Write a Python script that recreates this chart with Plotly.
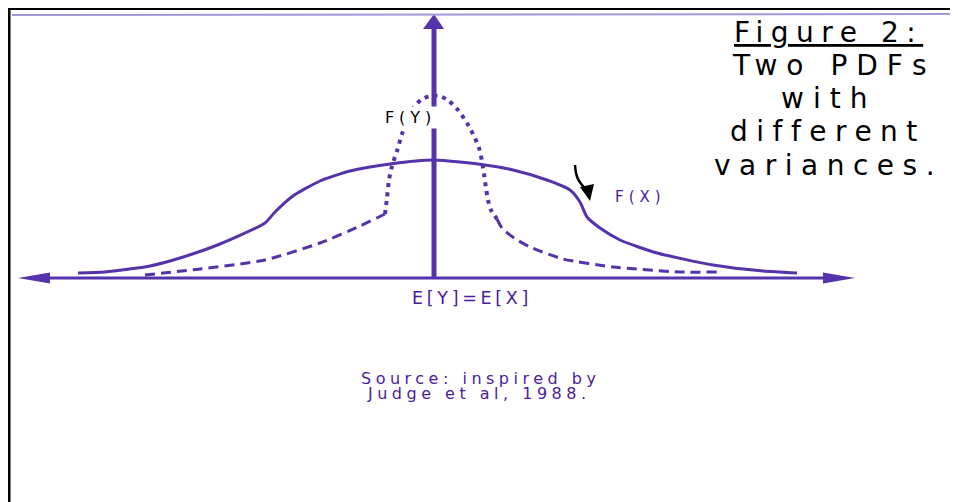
import plotly.graph_objects as go

# x = offset from the common mean E[Y]=E[X], y = density height above the axis
FX_X = [-356, -329, -284, -254, -214, -169, -159, -141, -114, -84, -44, 0,
        51, 79, 113, 136, 146, 153, 166, 186, 223, 279, 329, 363]
FX_Y = [5, 6, 12, 20, 34, 55, 66, 82, 97, 107, 114, 118,
        113, 108, 98, 88, 76, 61, 50, 38, 25, 13, 7, 5]

FY_LEFT_X = [-289, -234, -169, -114, -74, -49]
FY_LEFT_Y = [3, 9, 18, 35, 52, 64]
FY_PEAK_X = [-49, -47, -45, -42, -37, -32, -27, -20, -12, -3, 6, 15, 24, 33,
             40, 45, 48, 50, 52, 54, 57, 63]
FY_PEAK_Y = [64, 80, 98, 112, 127, 144, 158, 171, 179, 182, 182, 177, 168, 155,
             142, 130, 117, 104, 90, 78, 68, 59]
FY_RIGHT_X = [63, 68, 80, 96, 129, 179, 246, 283]
FY_RIGHT_Y = [59, 50, 40, 31, 19, 11, 6, 6]

# little black pointer next to F(X)
POINTER_X = [141, 142, 144, 148, 151]
POINTER_Y = [113, 105, 99, 93, 90]

TITLE_LINES = ["<u>Figure 2:</u>", "Two PDFs", "with", "different", "variances."]
SOURCE_LINES = ["Source: inspired by", "Judge et al, 1988."]

PURPLE = "#5533aa"
TEXT_PURPLE = "#4b1c9c"
FONT = "DejaVu Sans, Verdana, sans-serif"


def spaced(text, px):
    return f"<span style='letter-spacing:{px}px'>{text}</span>"


def triangle(fig, xs, ys, color):
    fig.add_scatter(x=xs + xs[:1], y=ys + ys[:1], mode="lines", fill="toself",
                    fillcolor=color, line=dict(width=0, color=color),
                    hoverinfo="skip", showlegend=False)


fig = go.Figure()

# axes drawn as marks
fig.add_scatter(x=[-384, 389], y=[0, 0], mode="lines",
                line=dict(color=PURPLE, width=3), hoverinfo="skip", showlegend=False)
triangle(fig, [-416, -384, -384], [0, 5.5, -5.5], PURPLE)
triangle(fig, [421, 389, 389], [0, 5.5, -5.5], PURPLE)
fig.add_scatter(x=[0, 0], y=[0, 250], mode="lines",
                line=dict(color=PURPLE, width=5), hoverinfo="skip", showlegend=False)
triangle(fig, [0, -11, 10], [264, 249, 249], PURPLE)

# densities
fig.add_scatter(x=FX_X, y=FX_Y, mode="lines", line=dict(color=PURPLE, width=3, shape="spline", smoothing=0.6),
                name="F(X)", hoverinfo="skip", showlegend=False)
for xs, ys, dash in [(FY_LEFT_X, FY_LEFT_Y, "10px,6px"),
                     (FY_PEAK_X, FY_PEAK_Y, "4px,5px"),
                     (FY_RIGHT_X, FY_RIGHT_Y, "10px,6px")]:
    fig.add_scatter(x=xs, y=ys, mode="lines",
                    line=dict(color=PURPLE, width=4 if dash == "4px,5px" else 3, dash=dash, shape="spline", smoothing=0.6),
                    name="F(Y)", hoverinfo="skip", showlegend=False)

fig.add_scatter(x=POINTER_X, y=POINTER_Y, mode="lines", line=dict(color="black", width=2.5, shape="spline"),
                hoverinfo="skip", showlegend=False)
triangle(fig, [146, 160, 156], [91, 94, 77], "black")

fig.add_annotation(x=-26, y=161, text=spaced("F(Y)", 4.9), showarrow=False, xshift=2.5,
                   bgcolor="white", borderpad=1, font=dict(family=FONT, size=16, color="black"))
fig.add_annotation(x=204, y=81, text=spaced("F(X)", 5), showarrow=False, xshift=2.5,
                   font=dict(family=FONT, size=15, color=TEXT_PURPLE))
fig.add_annotation(x=36, y=-19.5, text=spaced("E[Y]=E[X]", 3.7), showarrow=False, xshift=2,
                   font=dict(family=FONT, size=17.5, color=TEXT_PURPLE))
for i, line in enumerate(SOURCE_LINES):
    fig.add_annotation(x=44 - 1.5 * i, y=-100 - 15.5 * i, text=spaced(line, 4.5), showarrow=False, xshift=2,
                       font=dict(family=FONT, size=16, color=TEXT_PURPLE))

title_centers = [391, 395, 390, 390, 390]
title_spacing = [7.5, 9, 9, 8.5, 8.5]
for i, line in enumerate(TITLE_LINES):
    fig.add_annotation(x=title_centers[i], y=246 - 33.3 * i, text=spaced(line, title_spacing[i]),
                       showarrow=False, xshift=title_spacing[i] / 2,
                       font=dict(family=FONT, size=28, color="black"))

# slide frame
fig.add_shape(type="line", x0=-427, x1=532, y0=269.5, y1=269.5, line=dict(color="black", width=3))
fig.add_shape(type="line", x0=-425, x1=-425, y0=270, y1=-232, line=dict(color="black", width=3))
fig.add_shape(type="line", x0=-422, x1=532, y0=263, y1=264, line=dict(color="#a597d6", width=2))

# the page sits 8px in from the window corner, so the ranges are offset by that much
fig.update_xaxes(range=[-426, 532], visible=False, fixedrange=True)
fig.update_yaxes(range=[-232, 270], visible=False, fixedrange=True)
fig.update_layout(
    width=958,
    height=502,
    margin=dict(l=0, r=0, t=0, b=0),
    paper_bgcolor="white",
    plot_bgcolor="white",
    showlegend=False,
)

fig.write_html("out.html")
